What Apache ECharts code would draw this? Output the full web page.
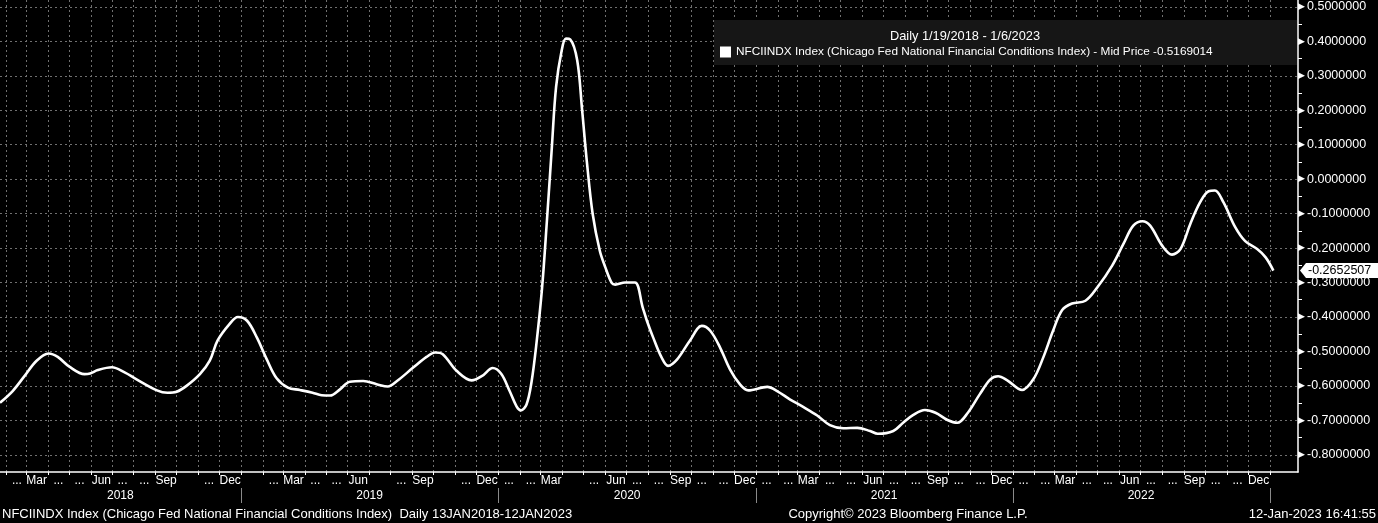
<!DOCTYPE html>
<html><head><meta charset="utf-8">
<script src="https://cdn.jsdelivr.net/npm/echarts@6/dist/echarts.min.js"></script>
<style>html,body{margin:0;padding:0;background:#000;}#c{width:1378px;height:523px;}</style>
</head><body><div id="c"></div>
<script>
// ---- data ----
const dates = [
'2018-01-23','2018-02-10','2018-02-27','2018-03-16','2018-04-02','2018-04-15','2018-05-02','2018-05-23','2018-05-31','2018-06-11',
'2018-07-01','2018-07-19','2018-08-05','2018-09-03','2018-09-18','2018-10-01','2018-10-15','2018-11-03','2018-11-17','2018-11-28',
'2018-12-15','2018-12-27',
'2019-01-09','2019-01-23','2019-02-06','2019-02-20','2019-03-08','2019-03-25','2019-04-12','2019-04-25','2019-05-07','2019-05-21',
'2019-06-04','2019-06-23','2019-07-12','2019-07-28','2019-08-10','2019-09-02','2019-09-21','2019-10-03','2019-10-14','2019-11-03',
'2019-11-24','2019-12-09','2019-12-24',
'2020-01-05','2020-01-17','2020-01-27','2020-02-02','2020-02-10','2020-02-17','2020-02-24','2020-03-03','2020-03-10','2020-03-17',
'2020-03-23','2020-03-31','2020-04-06','2020-04-12','2020-04-22','2020-04-29','2020-05-06','2020-05-14','2020-05-24','2020-06-01',
'2020-06-10','2020-06-15','2020-06-29','2020-07-13','2020-07-24','2020-07-30','2020-08-08','2020-08-20','2020-08-29','2020-09-11',
'2020-09-29','2020-10-16','2020-10-28','2020-11-11','2020-11-25','2020-12-09','2020-12-21',
'2021-01-17','2021-01-31','2021-02-18','2021-03-09','2021-03-29','2021-04-16','2021-05-05','2021-05-25','2021-06-12','2021-06-23',
'2021-07-15','2021-07-29','2021-08-12','2021-08-29','2021-09-13','2021-09-30','2021-10-14','2021-10-29','2021-11-15','2021-11-30',
'2021-12-11','2021-12-24',
'2022-01-14','2022-01-30','2022-02-13','2022-02-27','2022-03-12','2022-03-26','2022-04-14','2022-05-01','2022-05-22','2022-06-07',
'2022-06-21','2022-07-04','2022-07-15','2022-08-01','2022-08-15','2022-08-27','2022-09-10','2022-09-24','2022-10-06','2022-10-15',
'2022-10-27','2022-11-13','2022-11-27','2022-12-14','2022-12-26','2023-01-06'
];
const values = [
-0.649,-0.615,-0.571,-0.527,-0.506,-0.516,-0.545,-0.566,-0.564,-0.554,
-0.546,-0.561,-0.581,-0.613,-0.620,-0.617,-0.600,-0.566,-0.527,-0.469,
-0.421,-0.400,
-0.411,-0.460,-0.523,-0.578,-0.605,-0.612,-0.620,-0.627,-0.628,-0.610,
-0.588,-0.586,-0.595,-0.602,-0.586,-0.547,-0.516,-0.503,-0.508,-0.557,
-0.584,-0.571,-0.548,
-0.565,-0.615,-0.660,-0.671,-0.654,-0.590,-0.479,-0.318,-0.120,0.093,
0.268,0.374,0.408,0.406,0.345,0.200,0.045,-0.101,-0.207,-0.256,
-0.301,-0.306,-0.300,-0.300,-0.372,-0.411,-0.460,-0.518,-0.542,-0.523,
-0.469,-0.426,-0.440,-0.489,-0.552,-0.595,-0.613,
-0.603,-0.615,-0.639,-0.661,-0.686,-0.714,-0.723,-0.722,-0.731,-0.739,
-0.731,-0.707,-0.685,-0.670,-0.678,-0.699,-0.707,-0.678,-0.624,-0.581,
-0.572,-0.584,
-0.612,-0.581,-0.518,-0.440,-0.380,-0.361,-0.353,-0.314,-0.251,-0.188,
-0.135,-0.122,-0.135,-0.193,-0.219,-0.203,-0.130,-0.067,-0.035,-0.033,
-0.067,-0.140,-0.180,-0.203,-0.227,-0.2652507
];
const monthLabels = ['...','...','Mar','...','...','Jun','...','...','Sep','...','...','Dec'];
const hiddenMonthLabels = ['2018-10','2019-01','2019-07','2019-10','2020-04','2023-01'];
const yearLabels = ['2018','2019','2020','2021','2022'];
const axisStart = '2018-01-23';
const axisEnd = '2023-02-10';
const lastGridMonth = '2023-01';
const seriesName = 'NFCIINDX Index (Chicago Fed National Financial Conditions Index) - Mid Price -0.5169014';
const headerText = 'Daily 1/19/2018 - 1/6/2023';
const footerLeft = 'NFCIINDX Index (Chicago Fed National Financial Conditions Index)  Daily 13JAN2018-12JAN2023';
const footerMid = 'Copyright\u00a9 2023 Bloomberg Finance L.P.';
const footerRight = '12-Jan-2023 16:41:55';

// ---- build ----
const FONT = '"Liberation Sans", Arial, sans-serif';
const days = [];
for (let t = Date.parse(axisStart + 'T00:00:00Z'); t <= Date.parse(axisEnd + 'T00:00:00Z'); t += 86400000) {
  days.push(new Date(t).toISOString().slice(0, 10));
}
const yearLabelDay = {};
yearLabels.forEach(function (y) {
  const s = (y + '-01-01' < axisStart) ? axisStart : y + '-01-01';
  const e = (y + '-12-31' > axisEnd) ? axisEnd : y + '-12-31';
  const si = days.indexOf(s), ei = days.indexOf(e);
  yearLabelDay[days[Math.round((si + ei) / 2)]] = y;
});
const isGridDay = function (i, v) { return v.slice(8) === '01' && v.slice(0, 7) <= lastGridMonth; };
const isMonthLabelDay = function (i, v) { return v.slice(8) === '16' && hiddenMonthLabels.indexOf(v.slice(0, 7)) < 0; };
const isMajor = function (v) { return Math.abs(v * 10 - Math.round(v * 10)) < 1e-6; };
const lastValue = values[values.length - 1];
const lastDate = dates[dates.length - 1];

const baseGraphics = [
  {id: 'box', type: 'rect', z: 5, shape: {x: 714, y: 20, width: 583, height: 45}, style: {fill: '#161616'}},
  {id: 'hdr', type: 'text', z: 6, style: {text: headerText, x: 965, y: 36, fill: '#fff', font: '12.8px ' + FONT, textAlign: 'center', textVerticalAlign: 'middle'}},
  {id: 'f1', type: 'text', z: 6, style: {text: footerLeft, x: 2, y: 514, fill: '#fff', font: '13px ' + FONT, textAlign: 'left', textVerticalAlign: 'middle'}},
  {id: 'f2', type: 'text', z: 6, style: {text: footerMid, x: 908, y: 514, fill: '#fff', font: '13px ' + FONT, textAlign: 'center', textVerticalAlign: 'middle'}},
  {id: 'f3', type: 'text', z: 6, style: {text: footerRight, x: 1376, y: 514, fill: '#fff', font: '13px ' + FONT, textAlign: 'right', textVerticalAlign: 'middle'}}
];

const chart = echarts.init(document.getElementById('c'), null, {renderer: 'canvas'});
chart.setOption({
  backgroundColor: '#000',
  animation: false,
  grid: {left: 0, right: 80, top: 0, bottom: 51, containLabel: false},
  legend: {
    show: true, data: [seriesName], left: 720, top: 46, icon: 'rect', itemWidth: 11, itemHeight: 11,
    padding: 0, z: 10, selectedMode: false,
    textStyle: {color: '#fff', fontFamily: FONT, fontSize: 11.8}
  },
  xAxis: [{
    type: 'category', data: days, boundaryGap: false,
    axisLine: {show: true, onZero: false, lineStyle: {color: '#fff', width: 1.5}},
    axisTick: {show: true, interval: isGridDay, length: 3, lineStyle: {color: '#fff'}},
    axisLabel: {interval: isMonthLabelDay, formatter: function (v) { return monthLabels[+v.slice(5, 7) - 1]; },
      color: '#fff', fontFamily: FONT, fontSize: 12, margin: 3},
    splitLine: {show: true, interval: isGridDay, lineStyle: {color: '#707070', type: [2, 3], width: 1}}
  }, {
    type: 'category', data: days, boundaryGap: false, position: 'bottom', offset: 16,
    axisLine: {show: false, onZero: false},
    axisTick: {show: true, interval: function (i, v) { return v.slice(5) === '01-01'; }, length: 15, lineStyle: {color: '#8a8a8a'}},
    axisLabel: {interval: function (i, v) { return v in yearLabelDay; }, formatter: function (v) { return yearLabelDay[v] || ''; },
      color: '#fff', fontFamily: FONT, fontSize: 12, margin: 2},
    splitLine: {show: false}
  }],
  yAxis: {
    type: 'value', position: 'right', min: -0.85, max: 0.52, interval: 0.05,
    axisLine: {show: true, lineStyle: {color: '#fff', width: 1.5}},
    axisTick: {show: true, length: 4, lineStyle: {color: '#fff'}},
    axisLabel: {
      margin: 0, showMaxLabel: false, showMinLabel: false,
      formatter: function (v) { return isMajor(v) ? '{t|\u25B6}{v|' + v.toFixed(7) + '}' : ''; },
      rich: {
        t: {color: '#fff', fontSize: 9, fontFamily: 'DejaVu Sans', width: 9},
        v: {color: '#fff', fontSize: 12.5, fontFamily: FONT}
      }
    },
    splitLine: {show: true, showMinLine: false, showMaxLine: false,
      lineStyle: {color: ['#707070', 'rgba(0,0,0,0)'], type: [2, 3], width: 1}}
  },
  graphic: baseGraphics,
  series: [{
    type: 'line', name: seriesName, xAxisIndex: 0,
    data: dates.map(function (d, i) { return [d, values[i]]; }),
    smooth: 0.35, symbol: 'none',
    lineStyle: {color: '#fff', width: 2.6}, itemStyle: {color: '#fff'}
  }]
});

// last-value tag on the right axis, placed through the chart's own scales
const pLast = chart.convertToPixel({xAxisIndex: 0, yAxisIndex: 0}, [lastDate, lastValue]);
const pEdge = chart.convertToPixel({xAxisIndex: 0, yAxisIndex: 0}, [axisEnd, lastValue]);
const ex = pEdge[0], ey = pLast[1], W = chart.getWidth();
chart.setOption({
  graphic: baseGraphics.concat([
    {id: 'tagbg', type: 'polygon', z: 20, shape: {points: [[ex + 2, ey], [ex + 8, ey - 7.5], [W, ey - 7.5], [W, ey + 7.5], [ex + 8, ey + 7.5]]}, style: {fill: '#fff'}},
    {id: 'tagtx', type: 'text', z: 21, style: {text: lastValue.toFixed(7), x: ex + 10, y: ey, fill: '#000', font: '12.5px ' + FONT, textAlign: 'left', textVerticalAlign: 'middle'}}
  ])
});
</script>
</body></html>
